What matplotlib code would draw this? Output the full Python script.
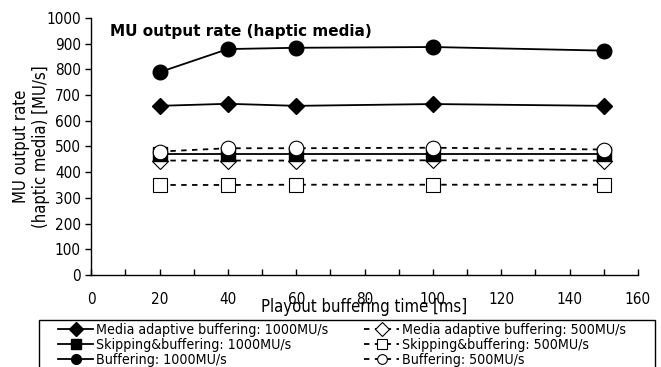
import matplotlib.pyplot as plt
from matplotlib.patches import Rectangle
from matplotlib.ticker import MultipleLocator

plt.rcParams["font.family"] = ["DejaVu Sans"]
plt.rcParams["font.stretch"] = "condensed"

buffering_time = [20, 40, 60, 100, 150]

media_adaptive_1000 = [658, 666, 658, 665, 658]
skipping_1000 = [472, 472, 472, 472, 472]
buffering_1000 = [789, 879, 884, 887, 873]
media_adaptive_500 = [445, 445, 445, 446, 445]
skipping_500 = [350, 350, 351, 351, 351]
buffering_500 = [480, 493, 493, 495, 488]

labels = [
    "Media adaptive buffering: 1000MU/s",
    "Skipping&buffering: 1000MU/s",
    "Buffering: 1000MU/s",
    "Media adaptive buffering: 500MU/s",
    "Skipping&buffering: 500MU/s",
    "Buffering: 500MU/s",
]

fig = plt.figure(figsize=(6.61, 3.67), dpi=100)
ax = fig.add_axes([0.138, 0.251, 0.827, 0.700])

solid = dict(color="black", linewidth=1.3, linestyle="-")
dashed = dict(color="black", linewidth=1.3, linestyle=(0, (3, 3)))

lines = []
lines += ax.plot(buffering_time, media_adaptive_1000, marker="D", markersize=8,
                 markerfacecolor="black", markeredgecolor="black", label=labels[0], **solid)
lines += ax.plot(buffering_time, skipping_1000, marker="s", markersize=9.5,
                 markerfacecolor="black", markeredgecolor="black", label=labels[1], **solid)
lines += ax.plot(buffering_time, buffering_1000, marker="o", markersize=10.5,
                 markerfacecolor="black", markeredgecolor="black", label=labels[2], **solid)
lines += ax.plot(buffering_time, media_adaptive_500, marker="D", markersize=8,
                 markerfacecolor="white", markeredgecolor="black", markeredgewidth=0.8,
                 label=labels[3], **dashed)
lines += ax.plot(buffering_time, skipping_500, marker="s", markersize=10,
                 markerfacecolor="white", markeredgecolor="black", markeredgewidth=0.8,
                 label=labels[4], **dashed)
lines += ax.plot(buffering_time, buffering_500, marker="o", markersize=10.5,
                 markerfacecolor="white", markeredgecolor="black", markeredgewidth=0.8,
                 label=labels[5], **dashed)

# open circle drawn over the filled square, as in the reference
lines[5].set_zorder(5)
lines[1].set_zorder(4)

ax.set_xlim(0, 160)
ax.set_ylim(0, 1000)
ax.xaxis.set_major_locator(MultipleLocator(20))
ax.xaxis.set_minor_locator(MultipleLocator(10))
ax.yaxis.set_major_locator(MultipleLocator(100))
ax.spines["top"].set_visible(False)
ax.spines["right"].set_visible(False)
ax.spines["left"].set_linewidth(1.0)
ax.spines["bottom"].set_linewidth(1.0)
ax.tick_params(axis="x", which="both", direction="in", length=4, width=1.0,
               labelsize=11, pad=12)
ax.tick_params(axis="y", direction="out", length=4, width=1.0, labelsize=11)

ax.set_xlabel("Playout buffering time [ms]", fontsize=12, labelpad=-6)
ax.set_ylabel("MU output rate\n(haptic media) [MU/s]", fontsize=12, linespacing=1.15)
ax.yaxis.set_label_coords(-0.075, 0.5)
ax.text(0.035, 0.975, "MU output rate (haptic media)", transform=ax.transAxes,
        fontsize=11, fontweight="bold", va="top", ha="left", fontstretch="normal")

# legend box runs past the bottom edge of the figure
fig.patches.append(Rectangle((39 / 661, -0.05), 616 / 661, 0.05 + 47 / 367,
                             transform=fig.transFigure, facecolor="white",
                             edgecolor="black", linewidth=1.0, zorder=1))
leg = fig.legend(handles=lines, loc="upper left", bbox_to_anchor=(58 / 661, 44 / 367),
                 ncol=2, fontsize=10.2, frameon=False, handlelength=2.5,
                 borderpad=0, labelspacing=0.08, handletextpad=0.2,
                 columnspacing=2.5, borderaxespad=0)
leg.set_zorder(2)
for h in leg.legend_handles:
    h.set_markersize(7)

fig.savefig("out.png", dpi=100)
